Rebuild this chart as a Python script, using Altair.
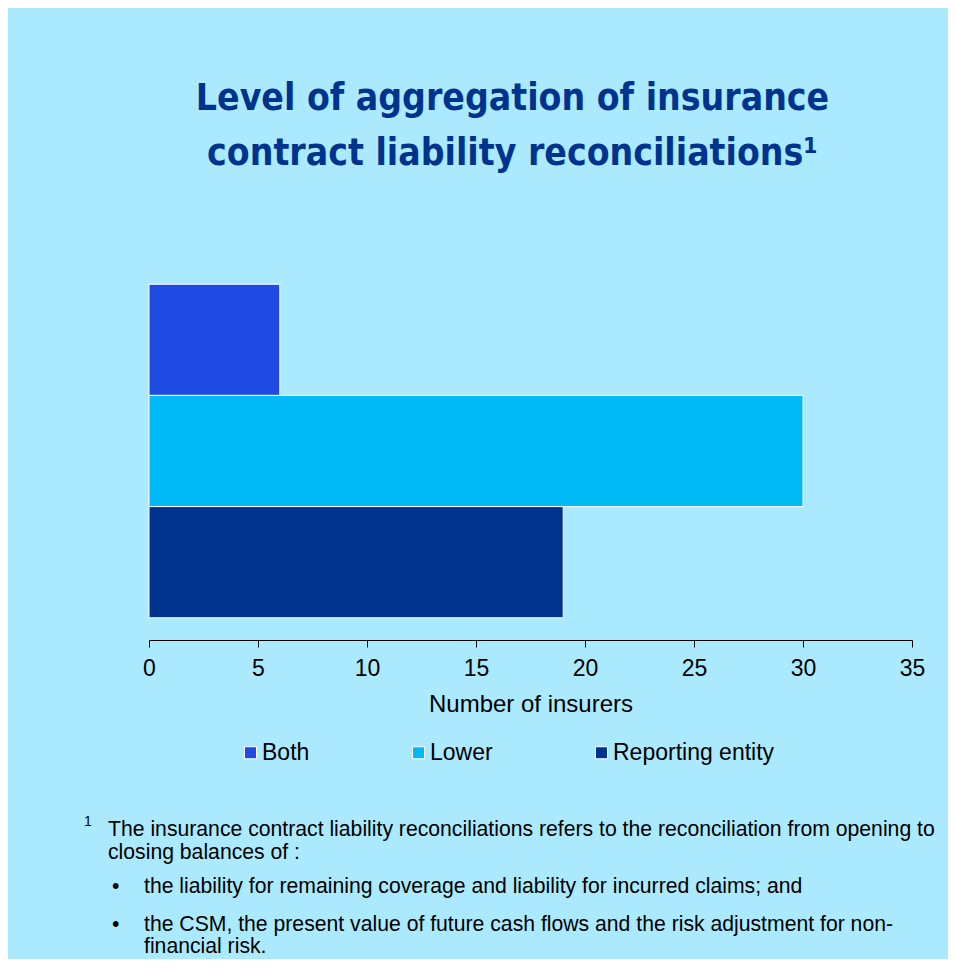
import altair as alt
import pandas as pd

categories = ["Both", "Lower", "Reporting entity"]
counts = [6, 30, 19]
colors = ["#1F4BE3", "#00B9F5", "#00338D"]
x_ticks = [0, 5, 10, 15, 20, 25, 30, 35]

title_lines = ["Level of aggregation of insurance", "contract liability reconciliations\u00b9"]
footnote_mark = "1"
footnote_lines = [
    "The insurance contract liability reconciliations refers to the reconciliation from opening to",
    "closing balances of :",
]
bullet_lines = [
    ["the liability for remaining coverage and liability for incurred claims; and"],
    ["the CSM, the present value of future cash flows and the risk adjustment for non-",
     "financial risk."],
]

BG = "#ABEAFE"
NAVY = "#00338D"
FONT = "Liberation Sans, Arial, sans-serif"
TITLE_FONT = "Liberation Sans Narrow, DejaVu Sans Condensed, Roboto Condensed, sans-serif"

df = pd.DataFrame({"category": categories, "count": counts})

bars = alt.Chart(df).mark_bar(stroke="white", strokeWidth=1).encode(
    x=alt.X("count:Q",
            scale=alt.Scale(domain=[0, 35], nice=False),
            axis=alt.Axis(values=x_ticks, grid=False, domainColor="black", tickColor="black",
                          tickSize=7, labelFontSize=23, labelFont=FONT, labelColor="black",
                          labelPadding=10, title="Number of insurers", titleFont=FONT,
                          titleFontSize=24, titleFontWeight="normal", titleColor="black",
                          titlePadding=12, labelFlush=False)),
    y=alt.Y("category:N", sort=categories,
            scale=alt.Scale(paddingInner=0, paddingOuter=0.2),
            axis=None),
    color=alt.Color("category:N", sort=categories,
                    scale=alt.Scale(domain=categories, range=colors),
                    legend=alt.Legend(title=None, orient="none", legendX=90, legendY=479,
                                      direction="horizontal", symbolType="square",
                                      symbolSize=144, symbolStrokeColor="white",
                                      symbolStrokeWidth=1, labelFontSize=23, labelFont=FONT,
                                      labelColor="black", labelOffset=0, columnPadding=97,
                                      labelLimit=300)),
)

def text_layer(txt, x, y, size=21.2, align="left"):
    return alt.Chart(alt.Data(values=[{"t": txt}])).mark_text(
        align=align, baseline="middle", font=FONT, fontSize=size, color="black"
    ).encode(text="t:N", x=alt.value(x), y=alt.value(y))

layers = [bars]
layers.append(text_layer(footnote_mark, -65, 560, size=14))
layers.append(text_layer(footnote_lines[0], -41, 568))
layers.append(text_layer(footnote_lines[1], -41, 591))
by = [625, 663]
for i, lines in enumerate(bullet_lines):
    layers.append(text_layer("\u2022", -37, by[i]))
    for j, ln in enumerate(lines):
        layers.append(text_layer(ln, -5, by[i] + 22 * j))

chart = alt.layer(*layers).properties(
    width=763,
    height=378,
    background=BG,
    padding={"left": 141, "top": 254, "right": 36, "bottom": 319},
    autosize=alt.AutoSizeParams(type="none"),
    title=alt.TitleParams(text=title_lines, font=TITLE_FONT, fontSize=37, fontWeight="bold",
                          color=NAVY, anchor="middle", offset=89, lineHeight=55, dx=-18),
).configure_view(stroke=None)

chart.save("out.html", embed_options={"renderer": "svg", "actions": False})
